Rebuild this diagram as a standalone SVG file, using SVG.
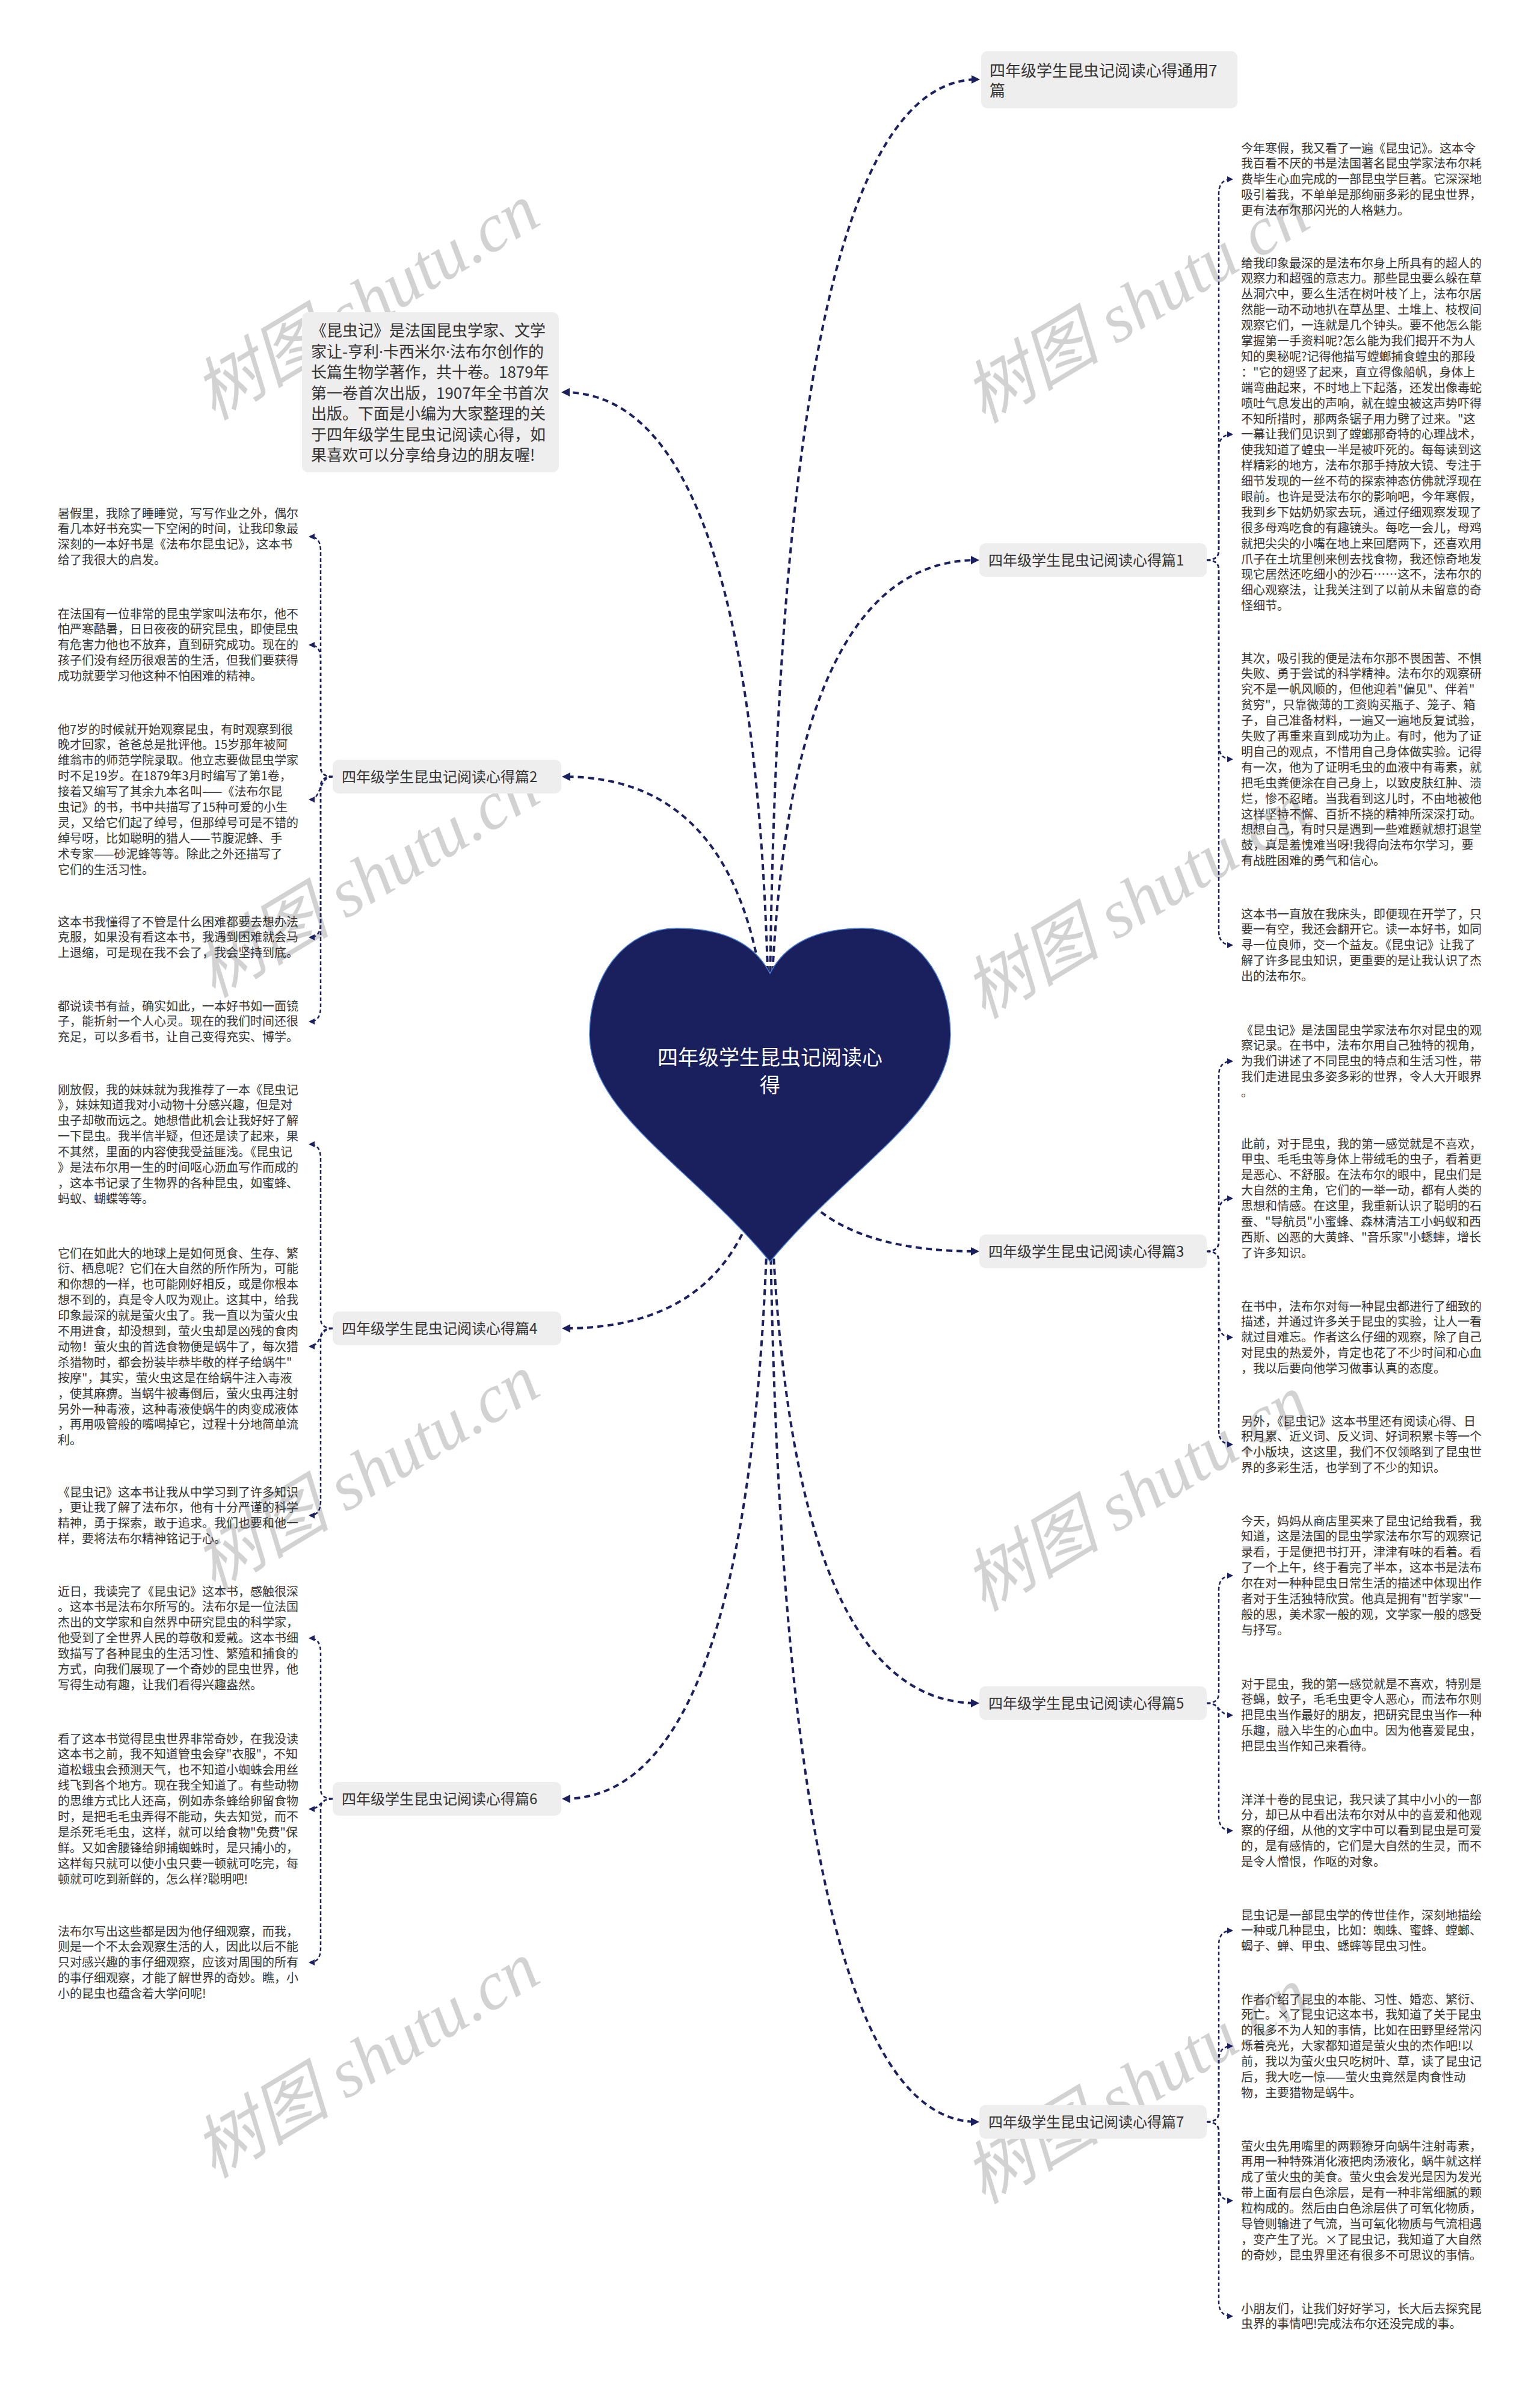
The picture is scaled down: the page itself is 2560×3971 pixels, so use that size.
<svg xmlns="http://www.w3.org/2000/svg" width="2560" height="3971" viewBox="0 0 2560 3971">
<defs>
<style>
.lbl{font-family:"Noto Sans CJK SC","Noto Sans",sans-serif;font-size:24px;fill:#333}
.big{font-size:26px}
.txt{font-family:"Noto Sans CJK SC","Noto Sans",sans-serif;font-size:20px;fill:#333}
.root{font-family:"Noto Sans CJK SC","Noto Sans",sans-serif;font-size:34px;fill:#fff}
.box{fill:#eeeeee}
.dot{font-family:"Noto Sans","Liberation Sans",sans-serif}
.c1{fill:none;stroke:#1b2160;stroke-width:4;stroke-dasharray:10 7}
.c2{fill:none;stroke:#1b2160;stroke-width:2.5;stroke-dasharray:6 4}
.wm{font-family:"Liberation Serif","Noto Sans CJK SC",serif;font-style:italic;font-size:114px;fill:#d2d2d2}
</style>
<marker id="a1" viewBox="0 0 14 14" refX="10" refY="7" markerWidth="14" markerHeight="14" orient="auto" markerUnits="userSpaceOnUse"><path d="M0,0 L14,7 L0,14 z" fill="#1b2160"/></marker>
<marker id="a2" viewBox="0 0 10 10" refX="8" refY="5" markerWidth="10" markerHeight="10" orient="auto" markerUnits="userSpaceOnUse"><path d="M0,0 L10,5 L0,10 z" fill="#1b2160"/></marker>
</defs>
<rect width="2560" height="3971" fill="#ffffff"/>
<g id="watermarks">
<text class="wm" x="355" y="700" transform="rotate(-31 355 700)">树图 shutu.cn</text>
<text class="wm" x="1635" y="705" transform="rotate(-31 1635 705)">树图 shutu.cn</text>
<text class="wm" x="355" y="1660" transform="rotate(-31 355 1660)">树图 shutu.cn</text>
<text class="wm" x="1635" y="1695" transform="rotate(-31 1635 1695)">树图 shutu.cn</text>
<text class="wm" x="355" y="2646" transform="rotate(-31 355 2646)">树图 shutu.cn</text>
<text class="wm" x="1635" y="2680" transform="rotate(-31 1635 2680)">树图 shutu.cn</text>
<text class="wm" x="355" y="3622" transform="rotate(-31 355 3622)">树图 shutu.cn</text>
<text class="wm" x="1635" y="3665" transform="rotate(-31 1635 3665)">树图 shutu.cn</text>
</g>
<g id="connectors">
<path class="c1" marker-end="url(#a1)" d="M1279 1820 Q1279 132 1625 132"/>
<path class="c1" marker-end="url(#a1)" d="M1279 1820 Q1279 931 1624 931"/>
<path class="c1" marker-end="url(#a1)" d="M1279 1820 Q1279 2080 1624 2080"/>
<path class="c1" marker-end="url(#a1)" d="M1279 1820 Q1279 2831 1624 2831"/>
<path class="c1" marker-end="url(#a1)" d="M1279 1820 Q1279 3527 1624 3527"/>
<path class="c1" marker-end="url(#a1)" d="M1279 1820 Q1279 652 937 652"/>
<path class="c1" marker-end="url(#a1)" d="M1279 1820 Q1279 1291 938 1291"/>
<path class="c1" marker-end="url(#a1)" d="M1279 1820 Q1279 2208 938 2208"/>
<path class="c1" marker-end="url(#a1)" d="M1279 1820 Q1279 2990 938 2990"/>
<path class="c2" marker-end="url(#a2)" d="M2006 931 Q2026 931 2026 915 L2026 322 Q2026 298 2048 298"/>
<path class="c2" marker-end="url(#a2)" d="M2006 931 Q2026 931 2026 915 L2026 746 Q2026 722 2048 722"/>
<path class="c2" marker-end="url(#a2)" d="M2006 931 Q2026 931 2026 947 L2026 1238 Q2026 1262 2048 1262"/>
<path class="c2" marker-end="url(#a2)" d="M2006 931 Q2026 931 2026 947 L2026 1547 Q2026 1571 2048 1571"/>
<path class="c2" marker-end="url(#a2)" d="M2006 2080 Q2026 2080 2026 2064 L2026 1788 Q2026 1764 2048 1764"/>
<path class="c2" marker-end="url(#a2)" d="M2006 2080 Q2026 2080 2026 2064 L2026 2016 Q2026 1992 2048 1992"/>
<path class="c2" marker-end="url(#a2)" d="M2006 2080 Q2026 2080 2026 2096 L2026 2199 Q2026 2223 2048 2223"/>
<path class="c2" marker-end="url(#a2)" d="M2006 2080 Q2026 2080 2026 2096 L2026 2377 Q2026 2401 2048 2401"/>
<path class="c2" marker-end="url(#a2)" d="M2006 2831 Q2026 2831 2026 2815 L2026 2643 Q2026 2619 2048 2619"/>
<path class="c2" marker-end="url(#a2)" d="M2006 2831 C2030 2831 2024 2851 2048 2851"/>
<path class="c2" marker-end="url(#a2)" d="M2006 2831 Q2026 2831 2026 2847 L2026 3019 Q2026 3043 2048 3043"/>
<path class="c2" marker-end="url(#a2)" d="M2006 3527 Q2026 3527 2026 3511 L2026 3233 Q2026 3209 2048 3209"/>
<path class="c2" marker-end="url(#a2)" d="M2006 3527 Q2026 3527 2026 3511 L2026 3425 Q2026 3401 2048 3401"/>
<path class="c2" marker-end="url(#a2)" d="M2006 3527 Q2026 3527 2026 3543 L2026 3634 Q2026 3658 2048 3658"/>
<path class="c2" marker-end="url(#a2)" d="M2006 3527 Q2026 3527 2026 3543 L2026 3826 Q2026 3850 2048 3850"/>
<path class="c2" marker-end="url(#a2)" d="M553 1291 Q533 1291 533 1275 L533 916 Q533 892 515 892"/>
<path class="c2" marker-end="url(#a2)" d="M553 1291 Q533 1291 533 1275 L533 1096 Q533 1072 515 1072"/>
<path class="c2" marker-end="url(#a2)" d="M553 1291 C529 1291 535 1329 515 1329"/>
<path class="c2" marker-end="url(#a2)" d="M553 1291 Q533 1291 533 1307 L533 1534 Q533 1558 515 1558"/>
<path class="c2" marker-end="url(#a2)" d="M553 1291 Q533 1291 533 1307 L533 1674 Q533 1698 515 1698"/>
<path class="c2" marker-end="url(#a2)" d="M553 2208 Q533 2208 533 2192 L533 1926 Q533 1902 515 1902"/>
<path class="c2" marker-end="url(#a2)" d="M553 2208 C529 2208 535 2238 515 2238"/>
<path class="c2" marker-end="url(#a2)" d="M553 2208 Q533 2208 533 2224 L533 2495 Q533 2519 515 2519"/>
<path class="c2" marker-end="url(#a2)" d="M553 2990 Q533 2990 533 2974 L533 2747 Q533 2723 515 2723"/>
<path class="c2" marker-end="url(#a2)" d="M553 2990 C529 2990 535 3007 515 3007"/>
<path class="c2" marker-end="url(#a2)" d="M553 2990 Q533 2990 533 3006 L533 3238 Q533 3262 515 3262"/>
</g>
<g id="root">
<path d="M1280 1618 C1250 1560 1190 1543 1125 1543 C1040 1543 980 1620 980 1720 C980 1850 1150 1940 1280 2097 C1410 1940 1580 1850 1580 1720 C1580 1620 1520 1543 1435 1543 C1370 1543 1310 1560 1280 1618 Z" fill="#1a1f5e" stroke="#4a7fd4" stroke-width="1.5"/>
<text class="root" text-anchor="middle"><tspan x="1280" y="1770">四年级学生昆虫记阅读心</tspan><tspan x="1280" y="1816">得</tspan></text>
</g>
<g id="n-general">
<rect class="box" x="1631" y="85" width="426" height="95" rx="10"/>
<text class="lbl big"><tspan x="1645" y="127">四年级学生昆虫记阅读心得通用7</tspan><tspan x="1645" y="160">篇</tspan></text>
</g>
<g id="n-intro">
<rect class="box" x="502" y="519" width="427" height="266" rx="10"/>
<text class="lbl big"><tspan x="517" y="559">《昆虫记》是法国昆虫学家、文学</tspan><tspan x="517" y="593.5">家让-亨利<tspan class="dot">·</tspan>卡西米尔<tspan class="dot">·</tspan>法布尔创作的</tspan><tspan x="517" y="628">长篇生物学著作，共十卷。1879年</tspan><tspan x="517" y="662.5">第一卷首次出版，1907年全书首次</tspan><tspan x="517" y="697">出版。下面是小编为大家整理的关</tspan><tspan x="517" y="731.5">于四年级学生昆虫记阅读心得，如</tspan><tspan x="517" y="766">果喜欢可以分享给身边的朋友喔!</tspan></text>
</g>
<g id="n-p1">
<rect class="box" x="1628" y="903" width="378" height="56" rx="10"/>
<text class="lbl" x="1643" y="940">四年级学生昆虫记阅读心得篇1</text>
</g>
<g id="n-p3">
<rect class="box" x="1628" y="2052" width="378" height="56" rx="10"/>
<text class="lbl" x="1643" y="2089">四年级学生昆虫记阅读心得篇3</text>
</g>
<g id="n-p5">
<rect class="box" x="1628" y="2803" width="378" height="56" rx="10"/>
<text class="lbl" x="1643" y="2840">四年级学生昆虫记阅读心得篇5</text>
</g>
<g id="n-p7">
<rect class="box" x="1628" y="3499" width="378" height="56" rx="10"/>
<text class="lbl" x="1643" y="3536">四年级学生昆虫记阅读心得篇7</text>
</g>
<g id="n-p2">
<rect class="box" x="553" y="1263" width="380" height="56" rx="10"/>
<text class="lbl" x="568" y="1300">四年级学生昆虫记阅读心得篇2</text>
</g>
<g id="n-p4">
<rect class="box" x="553" y="2180" width="380" height="56" rx="10"/>
<text class="lbl" x="568" y="2217">四年级学生昆虫记阅读心得篇4</text>
</g>
<g id="n-p6">
<rect class="box" x="553" y="2962" width="380" height="56" rx="10"/>
<text class="lbl" x="568" y="2999">四年级学生昆虫记阅读心得篇6</text>
</g>
<g id="t-r1a"><text class="txt" y="253.5"><tspan x="2063">今年寒假，我又看了一遍《昆虫记》。这本令</tspan><tspan x="2063" dy="25.9">我百看不厌的书是法国著名昆虫学家法布尔耗</tspan><tspan x="2063" dy="25.9">费毕生心血完成的一部昆虫学巨著。它深深地</tspan><tspan x="2063" dy="25.9">吸引着我，不单单是那绚丽多彩的昆虫世界，</tspan><tspan x="2063" dy="25.9">更有法布尔那闪光的人格魅力。</tspan></text></g>
<g id="t-r1b"><text class="txt" y="444.5"><tspan x="2063">给我印象最深的是法布尔身上所具有的超人的</tspan><tspan x="2063" dy="25.9">观察力和超强的意志力。那些昆虫要么躲在草</tspan><tspan x="2063" dy="25.9">丛洞穴中，要么生活在树叶枝丫上，法布尔居</tspan><tspan x="2063" dy="25.9">然能一动不动地扒在草丛里、土堆上、枝杈间</tspan><tspan x="2063" dy="25.9">观察它们，一连就是几个钟头。要不他怎么能</tspan><tspan x="2063" dy="25.9">掌握第一手资料呢?怎么能为我们揭开不为人</tspan><tspan x="2063" dy="25.9">知的奥秘呢?记得他描写螳螂捕食蝗虫的那段</tspan><tspan x="2063" dy="25.9">："它的翅竖了起来，直立得像船帆，身体上</tspan><tspan x="2063" dy="25.9">端弯曲起来，不时地上下起落，还发出像毒蛇</tspan><tspan x="2063" dy="25.9">喷吐气息发出的声响，就在蝗虫被这声势吓得</tspan><tspan x="2063" dy="25.9">不知所措时，那两条锯子用力劈了过来。"这</tspan><tspan x="2063" dy="25.9">一幕让我们见识到了螳螂那奇特的心理战术，</tspan><tspan x="2063" dy="25.9">使我知道了蝗虫一半是被吓死的。每每读到这</tspan><tspan x="2063" dy="25.9">样精彩的地方，法布尔那手持放大镜、专注于</tspan><tspan x="2063" dy="25.9">细节发现的一丝不苟的探索神态仿佛就浮现在</tspan><tspan x="2063" dy="25.9">眼前。也许是受法布尔的影响吧，今年寒假，</tspan><tspan x="2063" dy="25.9">我到乡下姑奶奶家去玩，通过仔细观察发现了</tspan><tspan x="2063" dy="25.9">很多母鸡吃食的有趣镜头。每吃一会儿，母鸡</tspan><tspan x="2063" dy="25.9">就把尖尖的小嘴在地上来回磨两下，还喜欢用</tspan><tspan x="2063" dy="25.9">爪子在土坑里刨来刨去找食物，我还惊奇地发</tspan><tspan x="2063" dy="25.9">现它居然还吃细小的沙石……这不，法布尔的</tspan><tspan x="2063" dy="25.9">细心观察法，让我关注到了以前从未留意的奇</tspan><tspan x="2063" dy="25.9">怪细节。</tspan></text></g>
<g id="t-r1c"><text class="txt" y="1101.5"><tspan x="2063">其次，吸引我的便是法布尔那不畏困苦、不惧</tspan><tspan x="2063" dy="25.9">失败、勇于尝试的科学精神。法布尔的观察研</tspan><tspan x="2063" dy="25.9">究不是一帆风顺的，但他迎着"偏见"、伴着"</tspan><tspan x="2063" dy="25.9">贫穷"，只靠微薄的工资购买瓶子、笼子、箱</tspan><tspan x="2063" dy="25.9">子，自己准备材料，一遍又一遍地反复试验，</tspan><tspan x="2063" dy="25.9">失败了再重来直到成功为止。有时，他为了证</tspan><tspan x="2063" dy="25.9">明自己的观点，不惜用自己身体做实验。记得</tspan><tspan x="2063" dy="25.9">有一次，他为了证明毛虫的血液中有毒素，就</tspan><tspan x="2063" dy="25.9">把毛虫粪便涂在自己身上，以致皮肤红肿、溃</tspan><tspan x="2063" dy="25.9">烂，惨不忍睹。当我看到这儿时，不由地被他</tspan><tspan x="2063" dy="25.9">这样坚持不懈、百折不挠的精神所深深打动。</tspan><tspan x="2063" dy="25.9">想想自己，有时只是遇到一些难题就想打退堂</tspan><tspan x="2063" dy="25.9">鼓，真是羞愧难当呀!我得向法布尔学习，要</tspan><tspan x="2063" dy="25.9">有战胜困难的勇气和信心。</tspan></text></g>
<g id="t-r1d"><text class="txt" y="1526.5"><tspan x="2063">这本书一直放在我床头，即便现在开学了，只</tspan><tspan x="2063" dy="25.9">要一有空，我还会翻开它。读一本好书，如同</tspan><tspan x="2063" dy="25.9">寻一位良师，交一个益友。《昆虫记》让我了</tspan><tspan x="2063" dy="25.9">解了许多昆虫知识，更重要的是让我认识了杰</tspan><tspan x="2063" dy="25.9">出的法布尔。</tspan></text></g>
<g id="t-r3a"><text class="txt" y="1719.5"><tspan x="2063">《昆虫记》是法国昆虫学家法布尔对昆虫的观</tspan><tspan x="2063" dy="25.9">察记录。在书中，法布尔用自己独特的视角，</tspan><tspan x="2063" dy="25.9">为我们讲述了不同昆虫的特点和生活习性，带</tspan><tspan x="2063" dy="25.9">我们走进昆虫多姿多彩的世界，令人大开眼界</tspan><tspan x="2063" dy="25.9">。</tspan></text></g>
<g id="t-r3b"><text class="txt" y="1908.5"><tspan x="2063">此前，对于昆虫，我的第一感觉就是不喜欢，</tspan><tspan x="2063" dy="25.9">甲虫、毛毛虫等身体上带绒毛的虫子，看着更</tspan><tspan x="2063" dy="25.9">是恶心、不舒服。在法布尔的眼中，昆虫们是</tspan><tspan x="2063" dy="25.9">大自然的主角，它们的一举一动，都有人类的</tspan><tspan x="2063" dy="25.9">思想和情感。在这里，我重新认识了聪明的石</tspan><tspan x="2063" dy="25.9">蚕、"导航员"小蜜蜂、森林清洁工小蚂蚁和西</tspan><tspan x="2063" dy="25.9">西斯、凶恶的大黄蜂、"音乐家"小蟋蟀，增长</tspan><tspan x="2063" dy="25.9">了许多知识。</tspan></text></g>
<g id="t-r3c"><text class="txt" y="2178.5"><tspan x="2063">在书中，法布尔对每一种昆虫都进行了细致的</tspan><tspan x="2063" dy="25.9">描述，并通过许多关于昆虫的实验，让人一看</tspan><tspan x="2063" dy="25.9">就过目难忘。作者这么仔细的观察，除了自己</tspan><tspan x="2063" dy="25.9">对昆虫的热爱外，肯定也花了不少时间和心血</tspan><tspan x="2063" dy="25.9">，我以后要向他学习做事认真的态度。</tspan></text></g>
<g id="t-r3d"><text class="txt" y="2369.5"><tspan x="2063">另外，《昆虫记》这本书里还有阅读心得、日</tspan><tspan x="2063" dy="25.9">积月累、近义词、反义词、好词积累卡等一个</tspan><tspan x="2063" dy="25.9">个小版块，这这里，我们不仅领略到了昆虫世</tspan><tspan x="2063" dy="25.9">界的多彩生活，也学到了不少的知识。</tspan></text></g>
<g id="t-r5a"><text class="txt" y="2535.5"><tspan x="2063">今天，妈妈从商店里买来了昆虫记给我看，我</tspan><tspan x="2063" dy="25.9">知道，这是法国的昆虫学家法布尔写的观察记</tspan><tspan x="2063" dy="25.9">录看，于是便把书打开，津津有味的看着。看</tspan><tspan x="2063" dy="25.9">了一个上午，终于看完了半本，这本书是法布</tspan><tspan x="2063" dy="25.9">尔在对一种种昆虫日常生活的描述中体现出作</tspan><tspan x="2063" dy="25.9">者对于生活独特欣赏。他真是拥有"哲学家"一</tspan><tspan x="2063" dy="25.9">般的思，美术家一般的观，文学家一般的感受</tspan><tspan x="2063" dy="25.9">与抒写。</tspan></text></g>
<g id="t-r5b"><text class="txt" y="2806.5"><tspan x="2063">对于昆虫，我的第一感觉就是不喜欢，特别是</tspan><tspan x="2063" dy="25.9">苍蝇，蚊子，毛毛虫更令人恶心，而法布尔则</tspan><tspan x="2063" dy="25.9">把昆虫当作最好的朋友，把研究昆虫当作一种</tspan><tspan x="2063" dy="25.9">乐趣，融入毕生的心血中。因为他喜爱昆虫，</tspan><tspan x="2063" dy="25.9">把昆虫当作知己来看待。</tspan></text></g>
<g id="t-r5c"><text class="txt" y="2998.5"><tspan x="2063">洋洋十卷的昆虫记，我只读了其中小小的一部</tspan><tspan x="2063" dy="25.9">分，却已从中看出法布尔对从中的喜爱和他观</tspan><tspan x="2063" dy="25.9">察的仔细，从他的文字中可以看到昆虫是可爱</tspan><tspan x="2063" dy="25.9">的，是有感情的，它们是大自然的生灵，而不</tspan><tspan x="2063" dy="25.9">是令人憎恨，作呕的对象。</tspan></text></g>
<g id="t-r7a"><text class="txt" y="3190.5"><tspan x="2063">昆虫记是一部昆虫学的传世佳作，深刻地描绘</tspan><tspan x="2063" dy="25.9">一种或几种昆虫，比如：蜘蛛、蜜蜂、螳螂、</tspan><tspan x="2063" dy="25.9">蝎子、蝉、甲虫、蟋蟀等昆虫习性。</tspan></text></g>
<g id="t-r7b"><text class="txt" y="3330.5"><tspan x="2063">作者介绍了昆虫的本能、习性、婚恋、繁衍、</tspan><tspan x="2063" dy="25.9">死亡。×了昆虫记这本书，我知道了关于昆虫</tspan><tspan x="2063" dy="25.9">的很多不为人知的事情，比如在田野里经常闪</tspan><tspan x="2063" dy="25.9">烁着亮光，大家都知道是萤火虫的杰作吧!以</tspan><tspan x="2063" dy="25.9">前，我以为萤火虫只吃树叶、草，读了昆虫记</tspan><tspan x="2063" dy="25.9">后，我大吃一惊——萤火虫竟然是肉食性动</tspan><tspan x="2063" dy="25.9">物，主要猎物是蜗牛。</tspan></text></g>
<g id="t-r7c"><text class="txt" y="3574.5"><tspan x="2063">萤火虫先用嘴里的两颗獠牙向蜗牛注射毒素，</tspan><tspan x="2063" dy="25.9">再用一种特殊消化液把肉汤液化，蜗牛就这样</tspan><tspan x="2063" dy="25.9">成了萤火虫的美食。萤火虫会发光是因为发光</tspan><tspan x="2063" dy="25.9">带上面有层白色涂层，是有一种非常细腻的颗</tspan><tspan x="2063" dy="25.9">粒构成的。然后由白色涂层供了可氧化物质，</tspan><tspan x="2063" dy="25.9">导管则输进了气流，当可氧化物质与气流相遇</tspan><tspan x="2063" dy="25.9">，变产生了光。×了昆虫记，我知道了大自然</tspan><tspan x="2063" dy="25.9">的奇妙，昆虫界里还有很多不可思议的事情。</tspan></text></g>
<g id="t-r7d"><text class="txt" y="3844.5"><tspan x="2063">小朋友们，让我们好好学习，长大后去探究昆</tspan><tspan x="2063" dy="25.9">虫界的事情吧!完成法布尔还没完成的事。</tspan></text></g>
<g id="t-l2a"><text class="txt" y="860.5"><tspan x="96">暑假里，我除了睡睡觉，写写作业之外，偶尔</tspan><tspan x="96" dy="25.9">看几本好书充实一下空闲的时间，让我印象最</tspan><tspan x="96" dy="25.9">深刻的一本好书是《法布尔昆虫记》，这本书</tspan><tspan x="96" dy="25.9">给了我很大的启发。</tspan></text></g>
<g id="t-l2b"><text class="txt" y="1027.5"><tspan x="96">在法国有一位非常的昆虫学家叫法布尔，他不</tspan><tspan x="96" dy="25.9">怕严寒酷暑，日日夜夜的研究昆虫，即使昆虫</tspan><tspan x="96" dy="25.9">有危害力他也不放弃，直到研究成功。现在的</tspan><tspan x="96" dy="25.9">孩子们没有经历很艰苦的生活，但我们要获得</tspan><tspan x="96" dy="25.9">成功就要学习他这种不怕困难的精神。</tspan></text></g>
<g id="t-l2c"><text class="txt" y="1219.5"><tspan x="96">他7岁的时候就开始观察昆虫，有时观察到很</tspan><tspan x="96" dy="25.9">晚才回家，爸爸总是批评他。15岁那年被阿</tspan><tspan x="96" dy="25.9">维翁市的师范学院录取。他立志要做昆虫学家</tspan><tspan x="96" dy="25.9">时不足19岁。在1879年3月时编写了第1卷，</tspan><tspan x="96" dy="25.9">接着又编写了其余九本名叫——《法布尔昆</tspan><tspan x="96" dy="25.9">虫记》的书，书中共描写了15种可爱的小生</tspan><tspan x="96" dy="25.9">灵，又给它们起了绰号，但那绰号可是不错的</tspan><tspan x="96" dy="25.9">绰号呀，比如聪明的猎人——节腹泥蜂、手</tspan><tspan x="96" dy="25.9">术专家——砂泥蜂等等。除此之外还描写了</tspan><tspan x="96" dy="25.9">它们的生活习性。</tspan></text></g>
<g id="t-l2d"><text class="txt" y="1539.5"><tspan x="96">这本书我懂得了不管是什么困难都要去想办法</tspan><tspan x="96" dy="25.9">克服，如果没有看这本书，我遇到困难就会马</tspan><tspan x="96" dy="25.9">上退缩，可是现在我不会了，我会坚持到底。</tspan></text></g>
<g id="t-l2e"><text class="txt" y="1679.5"><tspan x="96">都说读书有益，确实如此，一本好书如一面镜</tspan><tspan x="96" dy="25.9">子，能折射一个人心灵。现在的我们时间还很</tspan><tspan x="96" dy="25.9">充足，可以多看书，让自己变得充实、博学。</tspan></text></g>
<g id="t-l4a"><text class="txt" y="1818.5"><tspan x="96">刚放假，我的妹妹就为我推荐了一本《昆虫记</tspan><tspan x="96" dy="25.9">》，妹妹知道我对小动物十分感兴趣，但是对</tspan><tspan x="96" dy="25.9">虫子却敬而远之。她想借此机会让我好好了解</tspan><tspan x="96" dy="25.9">一下昆虫。我半信半疑，但还是读了起来，果</tspan><tspan x="96" dy="25.9">不其然，里面的内容使我受益匪浅。《昆虫记</tspan><tspan x="96" dy="25.9">》是法布尔用一生的时间呕心沥血写作而成的</tspan><tspan x="96" dy="25.9">，这本书记录了生物界的各种昆虫，如蜜蜂、</tspan><tspan x="96" dy="25.9">蚂蚁、蝴蝶等等。</tspan></text></g>
<g id="t-l4b"><text class="txt" y="2090.5"><tspan x="96">它们在如此大的地球上是如何觅食、生存、繁</tspan><tspan x="96" dy="25.9">衍、栖息呢？它们在大自然的所作所为，可能</tspan><tspan x="96" dy="25.9">和你想的一样，也可能刚好相反，或是你根本</tspan><tspan x="96" dy="25.9">想不到的，真是令人叹为观止。这其中，给我</tspan><tspan x="96" dy="25.9">印象最深的就是萤火虫了。我一直以为萤火虫</tspan><tspan x="96" dy="25.9">不用进食，却没想到，萤火虫却是凶残的食肉</tspan><tspan x="96" dy="25.9">动物！萤火虫的首选食物便是蜗牛了，每次猎</tspan><tspan x="96" dy="25.9">杀猎物时，都会扮装毕恭毕敬的样子给蜗牛"</tspan><tspan x="96" dy="25.9">按摩"，其实，萤火虫这是在给蜗牛注入毒液</tspan><tspan x="96" dy="25.9">，使其麻痹。当蜗牛被毒倒后，萤火虫再注射</tspan><tspan x="96" dy="25.9">另外一种毒液，这种毒液使蜗牛的肉变成液体</tspan><tspan x="96" dy="25.9">，再用吸管般的嘴喝掉它，过程十分地简单流</tspan><tspan x="96" dy="25.9">利。</tspan></text></g>
<g id="t-l4c"><text class="txt" y="2487.5"><tspan x="96">《昆虫记》这本书让我从中学习到了许多知识</tspan><tspan x="96" dy="25.9">，更让我了解了法布尔，他有十分严谨的科学</tspan><tspan x="96" dy="25.9">精神，勇于探索，敢于追求。我们也要和他一</tspan><tspan x="96" dy="25.9">样，要将法布尔精神铭记于心。</tspan></text></g>
<g id="t-l6a"><text class="txt" y="2652.5"><tspan x="96">近日，我读完了《昆虫记》这本书，感触很深</tspan><tspan x="96" dy="25.9">。这本书是法布尔所写的。法布尔是一位法国</tspan><tspan x="96" dy="25.9">杰出的文学家和自然界中研究昆虫的科学家，</tspan><tspan x="96" dy="25.9">他受到了全世界人民的尊敬和爱戴。这本书细</tspan><tspan x="96" dy="25.9">致描写了各种昆虫的生活习性、繁殖和捕食的</tspan><tspan x="96" dy="25.9">方式，向我们展现了一个奇妙的昆虫世界，他</tspan><tspan x="96" dy="25.9">写得生动有趣，让我们看得兴趣盎然。</tspan></text></g>
<g id="t-l6b"><text class="txt" y="2897.5"><tspan x="96">看了这本书觉得昆虫世界非常奇妙，在我没读</tspan><tspan x="96" dy="25.9">这本书之前，我不知道管虫会穿"衣服"，不知</tspan><tspan x="96" dy="25.9">道松蛾虫会预测天气，也不知道小蜘蛛会用丝</tspan><tspan x="96" dy="25.9">线飞到各个地方。现在我全知道了。有些动物</tspan><tspan x="96" dy="25.9">的思维方式比人还高，例如赤条蜂给卵留食物</tspan><tspan x="96" dy="25.9">时，是把毛毛虫弄得不能动，失去知觉，而不</tspan><tspan x="96" dy="25.9">是杀死毛毛虫，这样，就可以给食物"免费"保</tspan><tspan x="96" dy="25.9">鲜。又如舍腰锋给卵捕蜘蛛时，是只捕小的，</tspan><tspan x="96" dy="25.9">这样每只就可以使小虫只要一顿就可吃完，每</tspan><tspan x="96" dy="25.9">顿就可吃到新鲜的，怎么样?聪明吧!</tspan></text></g>
<g id="t-l6c"><text class="txt" y="3217.5"><tspan x="96">法布尔写出这些都是因为他仔细观察，而我，</tspan><tspan x="96" dy="25.9">则是一个不太会观察生活的人，因此以后不能</tspan><tspan x="96" dy="25.9">只对感兴趣的事仔细观察，应该对周围的所有</tspan><tspan x="96" dy="25.9">的事仔细观察，才能了解世界的奇妙。瞧，小</tspan><tspan x="96" dy="25.9">小的昆虫也蕴含着大学问呢!</tspan></text></g>
</svg>
